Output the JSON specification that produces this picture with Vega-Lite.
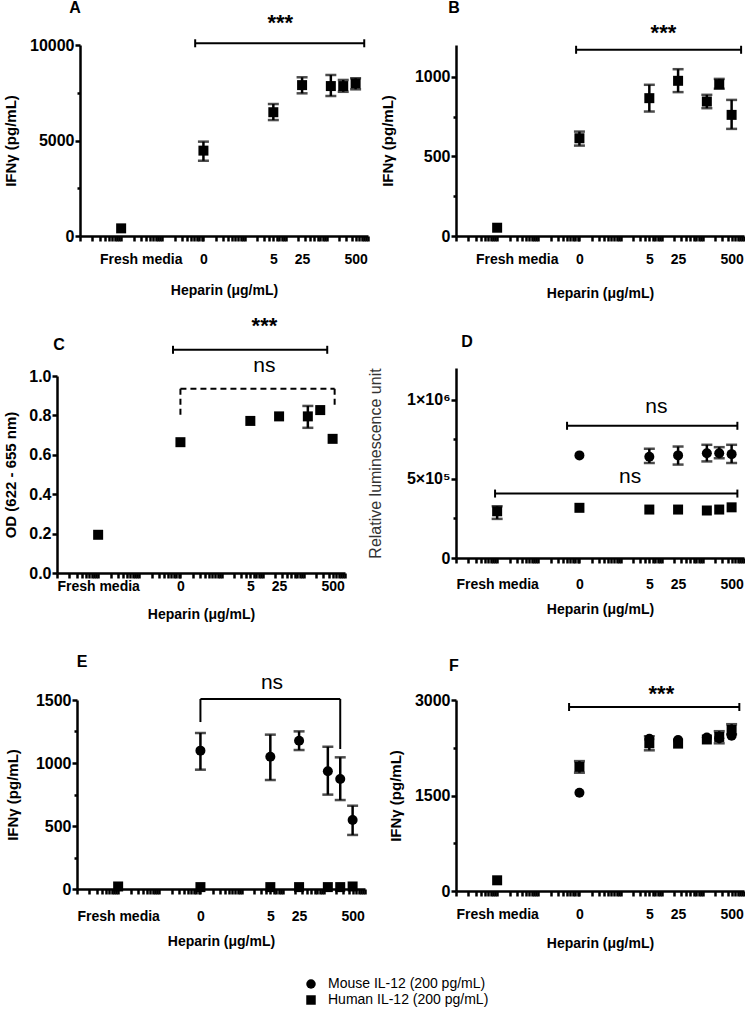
{
"$schema":"https://vega.github.io/schema/vega-lite/v6.json",
"padding":{"left":3,"top":0,"right":0,"bottom":3},
"background":"white",
"datasets":{
"pts":[
{"panel":"A","strain":"Human IL-12 (200 pg/mL)","cond":"Fresh media","x":0.001,"y":400},
{"panel":"A","strain":"Human IL-12 (200 pg/mL)","cond":"0","x":0.1,"y":4470,"lo":3940,"hi":4940},
{"panel":"A","strain":"Human IL-12 (200 pg/mL)","cond":"5","x":5,"y":6480,"lo":6070,"hi":6910},
{"panel":"A","strain":"Human IL-12 (200 pg/mL)","cond":"25","x":25,"y":7900,"lo":7470,"hi":8310},
{"panel":"A","strain":"Human IL-12 (200 pg/mL)","cond":"125","x":125,"y":7850,"lo":7330,"hi":8430},
{"panel":"A","strain":"Human IL-12 (200 pg/mL)","cond":"250","x":250,"y":7850,"lo":7550,"hi":8170},
{"panel":"A","strain":"Human IL-12 (200 pg/mL)","cond":"500","x":500,"y":7990,"lo":7680,"hi":8260},
{"panel":"B","strain":"Human IL-12 (200 pg/mL)","cond":"Fresh media","x":0.001,"y":52},
{"panel":"B","strain":"Human IL-12 (200 pg/mL)","cond":"0","x":0.1,"y":614,"lo":568,"hi":656},
{"panel":"B","strain":"Human IL-12 (200 pg/mL)","cond":"5","x":5,"y":866,"lo":782,"hi":950},
{"panel":"B","strain":"Human IL-12 (200 pg/mL)","cond":"25","x":25,"y":975,"lo":904,"hi":1048},
{"panel":"B","strain":"Human IL-12 (200 pg/mL)","cond":"125","x":125,"y":845,"lo":803,"hi":887},
{"panel":"B","strain":"Human IL-12 (200 pg/mL)","cond":"250","x":250,"y":954,"lo":925,"hi":987},
{"panel":"B","strain":"Human IL-12 (200 pg/mL)","cond":"500","x":500,"y":761,"lo":673,"hi":855},
{"panel":"C","strain":"Human IL-12 (200 pg/mL)","cond":"Fresh media","x":0.001,"y":0.194},
{"panel":"C","strain":"Human IL-12 (200 pg/mL)","cond":"0","x":0.1,"y":0.664},
{"panel":"C","strain":"Human IL-12 (200 pg/mL)","cond":"5","x":5,"y":0.772},
{"panel":"C","strain":"Human IL-12 (200 pg/mL)","cond":"25","x":25,"y":0.795},
{"panel":"C","strain":"Human IL-12 (200 pg/mL)","cond":"125","x":125,"y":0.795,"lo":0.737,"hi":0.848},
{"panel":"C","strain":"Human IL-12 (200 pg/mL)","cond":"250","x":250,"y":0.827},
{"panel":"C","strain":"Human IL-12 (200 pg/mL)","cond":"500","x":500,"y":0.681},
{"panel":"D","strain":"Mouse IL-12 (200 pg/mL)","cond":"0","x":0.1,"y":648000},
{"panel":"D","strain":"Mouse IL-12 (200 pg/mL)","cond":"5","x":5,"y":640000,"lo":600000,"hi":690000},
{"panel":"D","strain":"Mouse IL-12 (200 pg/mL)","cond":"25","x":25,"y":648000,"lo":590000,"hi":704000},
{"panel":"D","strain":"Mouse IL-12 (200 pg/mL)","cond":"125","x":125,"y":662000,"lo":610000,"hi":715000},
{"panel":"D","strain":"Mouse IL-12 (200 pg/mL)","cond":"250","x":250,"y":662000,"lo":630000,"hi":700000},
{"panel":"D","strain":"Mouse IL-12 (200 pg/mL)","cond":"500","x":500,"y":656000,"lo":600000,"hi":715000},
{"panel":"D","strain":"Human IL-12 (200 pg/mL)","cond":"Fresh media","x":0.001,"y":295000,"lo":247000,"hi":327000},
{"panel":"D","strain":"Human IL-12 (200 pg/mL)","cond":"0","x":0.1,"y":317000},
{"panel":"D","strain":"Human IL-12 (200 pg/mL)","cond":"5","x":5,"y":306000},
{"panel":"D","strain":"Human IL-12 (200 pg/mL)","cond":"25","x":25,"y":306000},
{"panel":"D","strain":"Human IL-12 (200 pg/mL)","cond":"125","x":125,"y":300000},
{"panel":"D","strain":"Human IL-12 (200 pg/mL)","cond":"250","x":250,"y":306000},
{"panel":"D","strain":"Human IL-12 (200 pg/mL)","cond":"500","x":500,"y":320000},
{"panel":"E","strain":"Mouse IL-12 (200 pg/mL)","cond":"0","x":0.1,"y":1098,"lo":947,"hi":1238},
{"panel":"E","strain":"Mouse IL-12 (200 pg/mL)","cond":"5","x":5,"y":1050,"lo":865,"hi":1225},
{"panel":"E","strain":"Mouse IL-12 (200 pg/mL)","cond":"25","x":25,"y":1177,"lo":1103,"hi":1251},
{"panel":"E","strain":"Mouse IL-12 (200 pg/mL)","cond":"125","x":125,"y":934,"lo":749,"hi":1129},
{"panel":"E","strain":"Mouse IL-12 (200 pg/mL)","cond":"250","x":250,"y":873,"lo":706,"hi":1045},
{"panel":"E","strain":"Mouse IL-12 (200 pg/mL)","cond":"500","x":500,"y":548,"lo":429,"hi":661},
{"panel":"E","strain":"Human IL-12 (200 pg/mL)","cond":"Fresh media","x":0.001,"y":20},
{"panel":"E","strain":"Human IL-12 (200 pg/mL)","cond":"0","x":0.1,"y":15},
{"panel":"E","strain":"Human IL-12 (200 pg/mL)","cond":"5","x":5,"y":15},
{"panel":"E","strain":"Human IL-12 (200 pg/mL)","cond":"25","x":25,"y":15},
{"panel":"E","strain":"Human IL-12 (200 pg/mL)","cond":"125","x":125,"y":15},
{"panel":"E","strain":"Human IL-12 (200 pg/mL)","cond":"250","x":250,"y":15},
{"panel":"E","strain":"Human IL-12 (200 pg/mL)","cond":"500","x":500,"y":20},
{"panel":"F","strain":"Mouse IL-12 (200 pg/mL)","cond":"0","x":0.1,"y":1544},
{"panel":"F","strain":"Mouse IL-12 (200 pg/mL)","cond":"5","x":5,"y":2390},
{"panel":"F","strain":"Mouse IL-12 (200 pg/mL)","cond":"25","x":25,"y":2370},
{"panel":"F","strain":"Mouse IL-12 (200 pg/mL)","cond":"125","x":125,"y":2410},
{"panel":"F","strain":"Mouse IL-12 (200 pg/mL)","cond":"250","x":250,"y":2400},
{"panel":"F","strain":"Mouse IL-12 (200 pg/mL)","cond":"500","x":500,"y":2440},
{"panel":"F","strain":"Human IL-12 (200 pg/mL)","cond":"Fresh media","x":0.001,"y":168},
{"panel":"F","strain":"Human IL-12 (200 pg/mL)","cond":"0","x":0.1,"y":1950,"lo":1858,"hi":2040},
{"panel":"F","strain":"Human IL-12 (200 pg/mL)","cond":"5","x":5,"y":2320,"lo":2210,"hi":2430},
{"panel":"F","strain":"Human IL-12 (200 pg/mL)","cond":"25","x":25,"y":2315},
{"panel":"F","strain":"Human IL-12 (200 pg/mL)","cond":"125","x":125,"y":2380},
{"panel":"F","strain":"Human IL-12 (200 pg/mL)","cond":"250","x":250,"y":2420,"lo":2320,"hi":2510},
{"panel":"F","strain":"Human IL-12 (200 pg/mL)","cond":"500","x":500,"y":2530,"lo":2460,"hi":2620}
],
"brk":[
{"panel":"A","from":0.063,"to":810,"y":10090},
{"panel":"B","from":0.083,"to":850,"y":1170},
{"panel":"C","from":0.066,"to":370,"y":1.133},
{"panel":"C","from":0.1,"to":560,"y":0.935,"leg1":0.79,"leg2":0.848},
{"panel":"D","from":0.05,"to":690,"y":835000},
{"panel":"D","from":0.00089,"to":690,"y":407000},
{"panel":"E","from":0.1,"to":250,"y":1508,"leg1":1325,"leg2":1111},
{"panel":"F","from":0.056,"to":770,"y":2890}
],
"txt":[
{"panel":"A","x":7.4,"y":11414,"label":"***"},
{"panel":"B","x":11,"y":1308,"label":"***"},
{"panel":"C","x":11,"y":1.277,"label":"***"},
{"panel":"C","x":11,"y":1.046,"label":"ns"},
{"panel":"D","x":7.4,"y":945000,"label":"ns"},
{"panel":"D","x":1.7,"y":505000,"label":"ns"},
{"panel":"E","x":5.5,"y":1627,"label":"ns"},
{"panel":"F","x":9.8,"y":3170,"label":"***"}
],
"tags":[
{"panel":"A","x":0.000076,"y":11937,"tag":"A"},
{"panel":"B","x":0.000089,"y":1432,"tag":"B"},
{"panel":"C","x":0.000112,"y":1.157,"tag":"C"},
{"panel":"D","x":0.000185,"y":1365000,"tag":"D"},
{"panel":"E","x":0.000132,"y":1802,"tag":"E"},
{"panel":"F","x":0.000089,"y":3534,"tag":"F"}
]
},
"columns":2,
"spacing":{"row":132,"column":88},
"bounds":"flush",
"concat":[
{
"width":311,"height":191,
"layer":[
{"data":{"name":"pts"},"transform":[{"filter":"datum.panel === 'A' && isValid(datum.lo)"}],
"mark":{"type":"errorbar","color":"black","thickness":2.5,"ticks":{"size":11,"thickness":2.5}},
"encoding":{"x":{"field":"x","type":"quantitative","title":"Heparin (μg/mL)","scale":{"type":"log","domain":[0.0001,1000],"nice":false,"range":[23,311]}},"y":{"field":"lo","type":"quantitative","title":"IFNγ (pg/mL)","scale":{"domain":[0,10000],"nice":false,"zero":false}},"y2":{"field":"hi"}}},
{"data":{"name":"pts"},"transform":[{"filter":"datum.panel === 'A'"}],
"mark":{"type":"point","filled":true,"opacity":1,"color":"black","size":100},
"encoding":{
"x":{"field":"x","type":"quantitative","scale":{"type":"log","domain":[0.0001,1000],"nice":false,"range":[23,311]},
"axis":{"title":"Heparin (μg/mL)","tickCount":100,"values":[0.0001,0.0002,0.0003,0.0004,0.0005,0.0006,0.0007,0.0008,0.0009,0.001,0.002,0.003,0.004,0.005,0.006,0.007,0.008,0.009,0.01,0.02,0.03,0.04,0.05,0.06,0.07,0.08,0.09,0.1,0.2,0.3,0.4,0.5,0.6,0.7,0.8,0.9,1,2,3,4,5,6,7,8,9,10,20,25,30,40,50,60,70,80,90,100,200,300,400,500,600,700,800,900,1000],
"labelExpr":"datum.value === 0.003 ? 'Fresh media' : datum.value === 0.1 ? '0' : datum.value === 5 ? '5' : datum.value === 25 ? '25' : datum.value === 500 ? '500' : ''","labelPadding":11,"titlePadding":17,"tickOpacity":{"condition":{"test":"datum.value === 25","value":0},"value":1}}},
"y":{"field":"y","type":"quantitative","scale":{"domain":[0,10000],"nice":false,"zero":false},
"axis":{"title":"IFNγ (pg/mL)","tickCount":100,"values":[0,2500,5000,7500,10000],"format":"d","labelOverlap":false,"labelExpr":"datum.value % 5000 === 0 ? datum.label : ''","offset":-23,"titlePadding":11,"tickSize":{"condition":{"test":"datum.value % 5000 === 0","value":5},"value":3}}},
"shape":{"field":"strain","type":"nominal","scale":{"domain":["Mouse IL-12 (200 pg/mL)","Human IL-12 (200 pg/mL)"],"range":["circle","square"]},"legend":{"title":null}}}},
{"data":{"name":"brk"},"transform":[{"filter":"datum.panel === 'A'"}],
"mark":{"type":"rule","color":"black","strokeWidth":2},
"encoding":{"x":{"field":"from","type":"quantitative","scale":{"type":"log","domain":[0.0001,1000],"nice":false,"range":[23,311]}},"x2":{"field":"to"},"y":{"field":"y","type":"quantitative","scale":{"domain":[0,10000],"nice":false,"zero":false}}}},
{"data":{"name":"brk"},"transform":[{"filter":"datum.panel === 'A'"}],
"mark":{"type":"point","shape":"M0,-1L0,1","size":64,"filled":false,"color":"black","strokeWidth":2,"opacity":1},
"encoding":{"x":{"field":"from","type":"quantitative","scale":{"type":"log","domain":[0.0001,1000],"nice":false,"range":[23,311]}},"y":{"field":"y","type":"quantitative","scale":{"domain":[0,10000],"nice":false,"zero":false}}}},
{"data":{"name":"brk"},"transform":[{"filter":"datum.panel === 'A'"}],
"mark":{"type":"point","shape":"M0,-1L0,1","size":64,"filled":false,"color":"black","strokeWidth":2,"opacity":1},
"encoding":{"x":{"field":"to","type":"quantitative","scale":{"type":"log","domain":[0.0001,1000],"nice":false,"range":[23,311]}},"y":{"field":"y","type":"quantitative","scale":{"domain":[0,10000],"nice":false,"zero":false}}}},
{"data":{"name":"txt"},"transform":[{"filter":"datum.panel === 'A'"}],
"mark":{"type":"text","fontSize":22,"fontWeight":"bold","baseline":"alphabetic","dy":12,"color":"black"},
"encoding":{"x":{"field":"x","type":"quantitative","scale":{"type":"log","domain":[0.0001,1000],"nice":false,"range":[23,311]}},"y":{"field":"y","type":"quantitative","scale":{"domain":[0,10000],"nice":false,"zero":false}},"text":{"field":"label"}}},
{"data":{"name":"tags"},"transform":[{"filter":"datum.panel === 'A'"}],
"mark":{"type":"text","fontSize":16,"fontWeight":"bold","baseline":"middle","align":"center","color":"black"},
"encoding":{"x":{"field":"x","type":"quantitative","scale":{"type":"log","domain":[0.0001,1000],"nice":false,"range":[23,311]}},"y":{"field":"y","type":"quantitative","scale":{"domain":[0,10000],"nice":false,"zero":false}},"text":{"field":"tag"}}}
]
},
{
"width":288,"height":191,
"layer":[
{"data":{"name":"pts"},"transform":[{"filter":"datum.panel === 'B' && isValid(datum.lo)"}],
"mark":{"type":"errorbar","color":"black","thickness":2.5,"ticks":{"size":11,"thickness":2.5}},
"encoding":{"x":{"field":"x","type":"quantitative","title":"Heparin (μg/mL)","scale":{"type":"log","domain":[0.0001,1000],"nice":false}},"y":{"field":"lo","type":"quantitative","title":"IFNγ (pg/mL)","scale":{"domain":[0,1200],"nice":false,"zero":false}},"y2":{"field":"hi"}}},
{"data":{"name":"pts"},"transform":[{"filter":"datum.panel === 'B'"}],
"mark":{"type":"point","filled":true,"opacity":1,"color":"black","size":100},
"encoding":{
"x":{"field":"x","type":"quantitative","scale":{"type":"log","domain":[0.0001,1000],"nice":false},
"axis":{"title":"Heparin (μg/mL)","tickCount":100,"values":[0.0001,0.0002,0.0003,0.0004,0.0005,0.0006,0.0007,0.0008,0.0009,0.001,0.002,0.003,0.004,0.005,0.006,0.007,0.008,0.009,0.01,0.02,0.03,0.04,0.05,0.06,0.07,0.08,0.09,0.1,0.2,0.3,0.4,0.5,0.6,0.7,0.8,0.9,1,2,3,4,5,6,7,8,9,10,20,25,30,40,50,60,70,80,90,100,200,300,400,500,600,700,800,900,1000],
"labelExpr":"datum.value === 0.003 ? 'Fresh media' : datum.value === 0.1 ? '0' : datum.value === 5 ? '5' : datum.value === 25 ? '25' : datum.value === 500 ? '500' : ''","labelPadding":11,"titlePadding":20,"tickOpacity":{"condition":{"test":"datum.value === 25","value":0},"value":1}}},
"y":{"field":"y","type":"quantitative","scale":{"domain":[0,1200],"nice":false,"zero":false},
"axis":{"title":"IFNγ (pg/mL)","tickCount":100,"values":[0,250,500,750,1000],"format":"d","labelOverlap":false,"labelExpr":"datum.value % 500 === 0 ? datum.label : ''","titlePadding":19,"tickSize":{"condition":{"test":"datum.value % 500 === 0","value":5},"value":3}}},
"shape":{"field":"strain","type":"nominal","scale":{"domain":["Mouse IL-12 (200 pg/mL)","Human IL-12 (200 pg/mL)"],"range":["circle","square"]},"legend":{"title":null}}}},
{"data":{"name":"brk"},"transform":[{"filter":"datum.panel === 'B'"}],
"mark":{"type":"rule","color":"black","strokeWidth":2},
"encoding":{"x":{"field":"from","type":"quantitative","scale":{"type":"log","domain":[0.0001,1000],"nice":false}},"x2":{"field":"to"},"y":{"field":"y","type":"quantitative","scale":{"domain":[0,1200],"nice":false,"zero":false}}}},
{"data":{"name":"brk"},"transform":[{"filter":"datum.panel === 'B'"}],
"mark":{"type":"point","shape":"M0,-1L0,1","size":64,"filled":false,"color":"black","strokeWidth":2,"opacity":1},
"encoding":{"x":{"field":"from","type":"quantitative","scale":{"type":"log","domain":[0.0001,1000],"nice":false}},"y":{"field":"y","type":"quantitative","scale":{"domain":[0,1200],"nice":false,"zero":false}}}},
{"data":{"name":"brk"},"transform":[{"filter":"datum.panel === 'B'"}],
"mark":{"type":"point","shape":"M0,-1L0,1","size":64,"filled":false,"color":"black","strokeWidth":2,"opacity":1},
"encoding":{"x":{"field":"to","type":"quantitative","scale":{"type":"log","domain":[0.0001,1000],"nice":false}},"y":{"field":"y","type":"quantitative","scale":{"domain":[0,1200],"nice":false,"zero":false}}}},
{"data":{"name":"txt"},"transform":[{"filter":"datum.panel === 'B'"}],
"mark":{"type":"text","fontSize":22,"fontWeight":"bold","baseline":"alphabetic","dy":12,"color":"black"},
"encoding":{"x":{"field":"x","type":"quantitative","scale":{"type":"log","domain":[0.0001,1000],"nice":false}},"y":{"field":"y","type":"quantitative","scale":{"domain":[0,1200],"nice":false,"zero":false}},"text":{"field":"label"}}},
{"data":{"name":"tags"},"transform":[{"filter":"datum.panel === 'B'"}],
"mark":{"type":"text","fontSize":16,"fontWeight":"bold","baseline":"middle","align":"center","color":"black"},
"encoding":{"x":{"field":"x","type":"quantitative","scale":{"type":"log","domain":[0.0001,1000],"nice":false}},"y":{"field":"y","type":"quantitative","scale":{"domain":[0,1200],"nice":false,"zero":false}},"text":{"field":"tag"}}}
]
},
{
"width":311,"height":200,
"layer":[
{"data":{"name":"pts"},"transform":[{"filter":"datum.panel === 'C' && isValid(datum.lo)"}],
"mark":{"type":"errorbar","color":"black","thickness":2.5,"ticks":{"size":11,"thickness":2.5}},
"encoding":{"x":{"field":"x","type":"quantitative","title":"Heparin (μg/mL)","scale":{"type":"log","domain":[0.0001,1000],"nice":false,"range":[0,288]}},"y":{"field":"lo","type":"quantitative","title":"OD (622 - 655 nm)","scale":{"domain":[0,1],"nice":false,"zero":false,"range":[205,8]},
"axis":{"title":"OD (622 - 655 nm)","tickCount":100,"values":[0,0.2,0.4,0.6,0.8,1],"labelExpr":"format(datum.value, '.1f')","labelOverlap":false,"labelSeparation":0,"titlePadding":10}},"y2":{"field":"hi"}}},
{"data":{"name":"pts"},"transform":[{"filter":"datum.panel === 'C'"}],
"mark":{"type":"point","filled":true,"opacity":1,"color":"black","size":100},
"encoding":{
"x":{"field":"x","type":"quantitative","scale":{"type":"log","domain":[0.0001,1000],"nice":false,"range":[0,288]},
"axis":{"title":"Heparin (μg/mL)","tickCount":100,"values":[0.0001,0.0002,0.0003,0.0004,0.0005,0.0006,0.0007,0.0008,0.0009,0.001,0.002,0.003,0.004,0.005,0.006,0.007,0.008,0.009,0.01,0.02,0.03,0.04,0.05,0.06,0.07,0.08,0.09,0.1,0.2,0.3,0.4,0.5,0.6,0.7,0.8,0.9,1,2,3,4,5,6,7,8,9,10,20,25,30,40,50,60,70,80,90,100,200,300,400,500,600,700,800,900,1000],
"labelExpr":"datum.value === 0.001 ? 'Fresh media' : datum.value === 0.1 ? '0' : datum.value === 5 ? '5' : datum.value === 25 ? '25' : datum.value === 500 ? '500' : ''","offset":5,"labelPadding":1,"titlePadding":14,"tickOpacity":{"condition":{"test":"datum.value === 25","value":0},"value":1}}},
"y":{"field":"y","type":"quantitative","scale":{"domain":[0,1],"nice":false,"zero":false,"range":[205,8]},
"axis":{"title":"OD (622 - 655 nm)","tickCount":100,"values":[0,0.2,0.4,0.6,0.8,1],"labelExpr":"format(datum.value, '.1f')","labelOverlap":false,"labelSeparation":0,"titlePadding":10}},
"shape":{"field":"strain","type":"nominal","scale":{"domain":["Mouse IL-12 (200 pg/mL)","Human IL-12 (200 pg/mL)"],"range":["circle","square"]},"legend":{"title":null}}}},
{"data":{"name":"brk"},"transform":[{"filter":"datum.panel === 'C' && !isValid(datum.leg1)"}],
"mark":{"type":"rule","color":"black","strokeWidth":2},
"encoding":{"x":{"field":"from","type":"quantitative","scale":{"type":"log","domain":[0.0001,1000],"nice":false,"range":[0,288]}},"x2":{"field":"to"},"y":{"field":"y","type":"quantitative","scale":{"domain":[0,1],"nice":false,"zero":false,"range":[205,8]}}}},
{"data":{"name":"brk"},"transform":[{"filter":"datum.panel === 'C' && !isValid(datum.leg1)"}],
"mark":{"type":"point","shape":"M0,-1L0,1","size":64,"filled":false,"color":"black","strokeWidth":2,"opacity":1},
"encoding":{"x":{"field":"from","type":"quantitative","scale":{"type":"log","domain":[0.0001,1000],"nice":false,"range":[0,288]}},"y":{"field":"y","type":"quantitative","scale":{"domain":[0,1],"nice":false,"zero":false,"range":[205,8]}}}},
{"data":{"name":"brk"},"transform":[{"filter":"datum.panel === 'C' && !isValid(datum.leg1)"}],
"mark":{"type":"point","shape":"M0,-1L0,1","size":64,"filled":false,"color":"black","strokeWidth":2,"opacity":1},
"encoding":{"x":{"field":"to","type":"quantitative","scale":{"type":"log","domain":[0.0001,1000],"nice":false,"range":[0,288]}},"y":{"field":"y","type":"quantitative","scale":{"domain":[0,1],"nice":false,"zero":false,"range":[205,8]}}}},
{"data":{"name":"brk"},"transform":[{"filter":"datum.panel === 'C' && isValid(datum.leg1)"}],
"mark":{"type":"rule","color":"black","strokeWidth":2,"strokeDash":[6,4]},
"encoding":{"x":{"field":"from","type":"quantitative","scale":{"type":"log","domain":[0.0001,1000],"nice":false,"range":[0,288]}},"x2":{"field":"to"},"y":{"field":"y","type":"quantitative","scale":{"domain":[0,1],"nice":false,"zero":false,"range":[205,8]}}}},
{"data":{"name":"brk"},"transform":[{"filter":"datum.panel === 'C' && isValid(datum.leg1)"}],
"mark":{"type":"rule","color":"black","strokeWidth":2,"strokeDash":[6,4]},
"encoding":{"x":{"field":"from","type":"quantitative","scale":{"type":"log","domain":[0.0001,1000],"nice":false,"range":[0,288]}},"y":{"field":"y","type":"quantitative","scale":{"domain":[0,1],"nice":false,"zero":false,"range":[205,8]}},"y2":{"field":"leg1"}}},
{"data":{"name":"brk"},"transform":[{"filter":"datum.panel === 'C' && isValid(datum.leg1)"}],
"mark":{"type":"rule","color":"black","strokeWidth":2,"strokeDash":[6,4]},
"encoding":{"x":{"field":"to","type":"quantitative","scale":{"type":"log","domain":[0.0001,1000],"nice":false,"range":[0,288]}},"y":{"field":"y","type":"quantitative","scale":{"domain":[0,1],"nice":false,"zero":false,"range":[205,8]}},"y2":{"field":"leg2"}}},
{"data":{"name":"txt"},"transform":[{"filter":"datum.panel === 'C' && datum.label === '***'"}],
"mark":{"type":"text","fontSize":22,"fontWeight":"bold","baseline":"alphabetic","dy":12,"color":"black"},
"encoding":{"x":{"field":"x","type":"quantitative","scale":{"type":"log","domain":[0.0001,1000],"nice":false,"range":[0,288]}},"y":{"field":"y","type":"quantitative","scale":{"domain":[0,1],"nice":false,"zero":false,"range":[205,8]}},"text":{"field":"label"}}},
{"data":{"name":"txt"},"transform":[{"filter":"datum.panel === 'C' && datum.label === 'ns'"}],
"mark":{"type":"text","fontSize":21,"fontWeight":"normal","baseline":"alphabetic","dy":5,"color":"black"},
"encoding":{"x":{"field":"x","type":"quantitative","scale":{"type":"log","domain":[0.0001,1000],"nice":false,"range":[0,288]}},"y":{"field":"y","type":"quantitative","scale":{"domain":[0,1],"nice":false,"zero":false,"range":[205,8]}},"text":{"field":"label"}}},
{"data":{"name":"tags"},"transform":[{"filter":"datum.panel === 'C'"}],
"mark":{"type":"text","fontSize":16,"fontWeight":"bold","baseline":"middle","align":"center","color":"black"},
"encoding":{"x":{"field":"x","type":"quantitative","scale":{"type":"log","domain":[0.0001,1000],"nice":false,"range":[0,288]}},"y":{"field":"y","type":"quantitative","scale":{"domain":[0,1],"nice":false,"zero":false,"range":[205,8]}},"text":{"field":"tag"}}}
]
},
{
"width":288,"height":190,
"layer":[
{"data":{"name":"pts"},"transform":[{"filter":"datum.panel === 'D' && isValid(datum.lo)"}],
"mark":{"type":"errorbar","color":"black","thickness":2.5,"ticks":{"size":11,"thickness":2.5}},
"encoding":{"x":{"field":"x","type":"quantitative","title":"Heparin (μg/mL)","scale":{"type":"log","domain":[0.0001,1000],"nice":false}},"y":{"field":"lo","type":"quantitative","title":"Relative luminescence unit","scale":{"domain":[0,1200000],"nice":false,"zero":false}},"y2":{"field":"hi"}}},
{"data":{"name":"pts"},"transform":[{"filter":"datum.panel === 'D'"}],
"mark":{"type":"point","filled":true,"opacity":1,"color":"black","size":100},
"encoding":{
"x":{"field":"x","type":"quantitative","scale":{"type":"log","domain":[0.0001,1000],"nice":false},
"axis":{"title":"Heparin (μg/mL)","tickCount":100,"values":[0.0001,0.0002,0.0003,0.0004,0.0005,0.0006,0.0007,0.0008,0.0009,0.001,0.002,0.003,0.004,0.005,0.006,0.007,0.008,0.009,0.01,0.02,0.03,0.04,0.05,0.06,0.07,0.08,0.09,0.1,0.2,0.3,0.4,0.5,0.6,0.7,0.8,0.9,1,2,3,4,5,6,7,8,9,10,20,25,30,40,50,60,70,80,90,100,200,300,400,500,600,700,800,900,1000],
"labelExpr":"datum.value === 0.001 ? 'Fresh media' : datum.value === 0.1 ? '0' : datum.value === 5 ? '5' : datum.value === 25 ? '25' : datum.value === 500 ? '500' : ''","labelPadding":14,"titlePadding":11,"tickOpacity":{"condition":{"test":"datum.value === 25","value":0},"value":1}}},
"y":{"field":"y","type":"quantitative","scale":{"domain":[0,1200000],"nice":false,"zero":false},
"axis":{"title":"Relative luminescence unit","tickCount":100,"values":[0,250000,500000,750000,1000000],"labelOverlap":false,"labelExpr":"datum.value === 1000000 ? '1×10⁶' : datum.value === 500000 ? '5×10⁵' : datum.value === 0 ? '0' : ''","titlePadding":23,"titleFontWeight":"normal","titleFontSize":16,"titleColor":"#333333","tickSize":{"condition":{"test":"datum.value % 500000 === 0","value":5},"value":3}}},
"shape":{"field":"strain","type":"nominal","scale":{"domain":["Mouse IL-12 (200 pg/mL)","Human IL-12 (200 pg/mL)"],"range":["circle","square"]},"legend":{"title":null}}}},
{"data":{"name":"brk"},"transform":[{"filter":"datum.panel === 'D'"}],
"mark":{"type":"rule","color":"black","strokeWidth":2},
"encoding":{"x":{"field":"from","type":"quantitative","scale":{"type":"log","domain":[0.0001,1000],"nice":false}},"x2":{"field":"to"},"y":{"field":"y","type":"quantitative","scale":{"domain":[0,1200000],"nice":false,"zero":false}}}},
{"data":{"name":"brk"},"transform":[{"filter":"datum.panel === 'D'"}],
"mark":{"type":"point","shape":"M0,-1L0,1","size":64,"filled":false,"color":"black","strokeWidth":2,"opacity":1},
"encoding":{"x":{"field":"from","type":"quantitative","scale":{"type":"log","domain":[0.0001,1000],"nice":false}},"y":{"field":"y","type":"quantitative","scale":{"domain":[0,1200000],"nice":false,"zero":false}}}},
{"data":{"name":"brk"},"transform":[{"filter":"datum.panel === 'D'"}],
"mark":{"type":"point","shape":"M0,-1L0,1","size":64,"filled":false,"color":"black","strokeWidth":2,"opacity":1},
"encoding":{"x":{"field":"to","type":"quantitative","scale":{"type":"log","domain":[0.0001,1000],"nice":false}},"y":{"field":"y","type":"quantitative","scale":{"domain":[0,1200000],"nice":false,"zero":false}}}},
{"data":{"name":"txt"},"transform":[{"filter":"datum.panel === 'D'"}],
"mark":{"type":"text","fontSize":21,"fontWeight":"normal","baseline":"alphabetic","dy":5,"color":"black"},
"encoding":{"x":{"field":"x","type":"quantitative","scale":{"type":"log","domain":[0.0001,1000],"nice":false}},"y":{"field":"y","type":"quantitative","scale":{"domain":[0,1200000],"nice":false,"zero":false}},"text":{"field":"label"}}},
{"data":{"name":"tags"},"transform":[{"filter":"datum.panel === 'D'"}],
"mark":{"type":"text","fontSize":16,"fontWeight":"bold","baseline":"middle","align":"center","color":"black"},
"encoding":{"x":{"field":"x","type":"quantitative","scale":{"type":"log","domain":[0.0001,1000],"nice":false}},"y":{"field":"y","type":"quantitative","scale":{"domain":[0,1200000],"nice":false,"zero":false}},"text":{"field":"tag"}}}
]
},
{
"width":311,"height":189,
"layer":[
{"data":{"name":"pts"},"transform":[{"filter":"datum.panel === 'E' && isValid(datum.lo)"}],
"mark":{"type":"errorbar","color":"black","thickness":2.5,"ticks":{"size":11,"thickness":2.5}},
"encoding":{"x":{"field":"x","type":"quantitative","title":"Heparin (μg/mL)","scale":{"type":"log","domain":[0.0001,1000],"nice":false,"range":[20,308]}},"y":{"field":"lo","type":"quantitative","title":"IFNγ (pg/mL)","scale":{"domain":[0,1500],"nice":false,"zero":false}},"y2":{"field":"hi"}}},
{"data":{"name":"pts"},"transform":[{"filter":"datum.panel === 'E'"}],
"mark":{"type":"point","filled":true,"opacity":1,"color":"black","size":100},
"encoding":{
"x":{"field":"x","type":"quantitative","scale":{"type":"log","domain":[0.0001,1000],"nice":false,"range":[20,308]},
"axis":{"title":"Heparin (μg/mL)","tickCount":100,"values":[0.0001,0.0002,0.0003,0.0004,0.0005,0.0006,0.0007,0.0008,0.0009,0.001,0.002,0.003,0.004,0.005,0.006,0.007,0.008,0.009,0.01,0.02,0.03,0.04,0.05,0.06,0.07,0.08,0.09,0.1,0.2,0.3,0.4,0.5,0.6,0.7,0.8,0.9,1,2,3,4,5,6,7,8,9,10,20,25,30,40,50,60,70,80,90,100,200,300,400,500,600,700,800,900,1000],
"labelExpr":"datum.value === 0.001 ? 'Fresh media' : datum.value === 0.1 ? '0' : datum.value === 5 ? '5' : datum.value === 25 ? '25' : datum.value === 500 ? '500' : ''","labelPadding":15,"titlePadding":11,"tickOpacity":{"condition":{"test":"datum.value === 25","value":0},"value":1}}},
"y":{"field":"y","type":"quantitative","scale":{"domain":[0,1500],"nice":false,"zero":false},
"axis":{"title":"IFNγ (pg/mL)","tickCount":100,"values":[0,250,500,750,1000,1250,1500],"format":"d","labelOverlap":false,"labelExpr":"datum.value % 500 === 0 ? datum.label : ''","offset":-20,"titlePadding":15,"tickSize":{"condition":{"test":"datum.value % 500 === 0","value":5},"value":3}}},
"shape":{"field":"strain","type":"nominal","scale":{"domain":["Mouse IL-12 (200 pg/mL)","Human IL-12 (200 pg/mL)"],"range":["circle","square"]},"legend":{"title":null}}}},
{"data":{"name":"brk"},"transform":[{"filter":"datum.panel === 'E'"}],
"mark":{"type":"rule","color":"black","strokeWidth":2},
"encoding":{"x":{"field":"from","type":"quantitative","scale":{"type":"log","domain":[0.0001,1000],"nice":false,"range":[20,308]}},"x2":{"field":"to"},"y":{"field":"y","type":"quantitative","scale":{"domain":[0,1500],"nice":false,"zero":false}}}},
{"data":{"name":"brk"},"transform":[{"filter":"datum.panel === 'E'"}],
"mark":{"type":"rule","color":"black","strokeWidth":2},
"encoding":{"x":{"field":"from","type":"quantitative","scale":{"type":"log","domain":[0.0001,1000],"nice":false,"range":[20,308]}},"y":{"field":"y","type":"quantitative","scale":{"domain":[0,1500],"nice":false,"zero":false}},"y2":{"field":"leg1"}}},
{"data":{"name":"brk"},"transform":[{"filter":"datum.panel === 'E'"}],
"mark":{"type":"rule","color":"black","strokeWidth":2},
"encoding":{"x":{"field":"to","type":"quantitative","scale":{"type":"log","domain":[0.0001,1000],"nice":false,"range":[20,308]}},"y":{"field":"y","type":"quantitative","scale":{"domain":[0,1500],"nice":false,"zero":false}},"y2":{"field":"leg2"}}},
{"data":{"name":"txt"},"transform":[{"filter":"datum.panel === 'E'"}],
"mark":{"type":"text","fontSize":21,"fontWeight":"normal","baseline":"alphabetic","dy":5,"color":"black"},
"encoding":{"x":{"field":"x","type":"quantitative","scale":{"type":"log","domain":[0.0001,1000],"nice":false,"range":[20,308]}},"y":{"field":"y","type":"quantitative","scale":{"domain":[0,1500],"nice":false,"zero":false}},"text":{"field":"label"}}},
{"data":{"name":"tags"},"transform":[{"filter":"datum.panel === 'E'"}],
"mark":{"type":"text","fontSize":16,"fontWeight":"bold","baseline":"middle","align":"center","color":"black"},
"encoding":{"x":{"field":"x","type":"quantitative","scale":{"type":"log","domain":[0.0001,1000],"nice":false,"range":[20,308]}},"y":{"field":"y","type":"quantitative","scale":{"domain":[0,1500],"nice":false,"zero":false}},"text":{"field":"tag"}}}
]
},
{
"width":288,"height":191,
"layer":[
{"data":{"name":"pts"},"transform":[{"filter":"datum.panel === 'F' && isValid(datum.lo)"}],
"mark":{"type":"errorbar","color":"black","thickness":2.5,"ticks":{"size":11,"thickness":2.5}},
"encoding":{"x":{"field":"x","type":"quantitative","title":"Heparin (μg/mL)","scale":{"type":"log","domain":[0.0001,1000],"nice":false}},"y":{"field":"lo","type":"quantitative","title":"IFNγ (pg/mL)","scale":{"domain":[0,3000],"nice":false,"zero":false}},"y2":{"field":"hi"}}},
{"data":{"name":"pts"},"transform":[{"filter":"datum.panel === 'F'"}],
"mark":{"type":"point","filled":true,"opacity":1,"color":"black","size":100},
"encoding":{
"x":{"field":"x","type":"quantitative","scale":{"type":"log","domain":[0.0001,1000],"nice":false},
"axis":{"title":"Heparin (μg/mL)","tickCount":100,"values":[0.0001,0.0002,0.0003,0.0004,0.0005,0.0006,0.0007,0.0008,0.0009,0.001,0.002,0.003,0.004,0.005,0.006,0.007,0.008,0.009,0.01,0.02,0.03,0.04,0.05,0.06,0.07,0.08,0.09,0.1,0.2,0.3,0.4,0.5,0.6,0.7,0.8,0.9,1,2,3,4,5,6,7,8,9,10,20,25,30,40,50,60,70,80,90,100,200,300,400,500,600,700,800,900,1000],
"labelExpr":"datum.value === 0.001 ? 'Fresh media' : datum.value === 0.1 ? '0' : datum.value === 5 ? '5' : datum.value === 25 ? '25' : datum.value === 500 ? '500' : ''","labelPadding":11,"titlePadding":15,"tickOpacity":{"condition":{"test":"datum.value === 25","value":0},"value":1}}},
"y":{"field":"y","type":"quantitative","scale":{"domain":[0,3000],"nice":false,"zero":false},
"axis":{"title":"IFNγ (pg/mL)","tickCount":100,"values":[0,750,1500,2250,3000],"format":"d","labelOverlap":false,"labelExpr":"datum.value % 1500 === 0 ? datum.label : ''","titlePadding":11,"tickSize":{"condition":{"test":"datum.value % 1500 === 0","value":5},"value":3}}},
"shape":{"field":"strain","type":"nominal","scale":{"domain":["Mouse IL-12 (200 pg/mL)","Human IL-12 (200 pg/mL)"],"range":["circle","square"]},"legend":{"title":null}}}},
{"data":{"name":"brk"},"transform":[{"filter":"datum.panel === 'F'"}],
"mark":{"type":"rule","color":"black","strokeWidth":2},
"encoding":{"x":{"field":"from","type":"quantitative","scale":{"type":"log","domain":[0.0001,1000],"nice":false}},"x2":{"field":"to"},"y":{"field":"y","type":"quantitative","scale":{"domain":[0,3000],"nice":false,"zero":false}}}},
{"data":{"name":"brk"},"transform":[{"filter":"datum.panel === 'F'"}],
"mark":{"type":"point","shape":"M0,-1L0,1","size":64,"filled":false,"color":"black","strokeWidth":2,"opacity":1},
"encoding":{"x":{"field":"from","type":"quantitative","scale":{"type":"log","domain":[0.0001,1000],"nice":false}},"y":{"field":"y","type":"quantitative","scale":{"domain":[0,3000],"nice":false,"zero":false}}}},
{"data":{"name":"brk"},"transform":[{"filter":"datum.panel === 'F'"}],
"mark":{"type":"point","shape":"M0,-1L0,1","size":64,"filled":false,"color":"black","strokeWidth":2,"opacity":1},
"encoding":{"x":{"field":"to","type":"quantitative","scale":{"type":"log","domain":[0.0001,1000],"nice":false}},"y":{"field":"y","type":"quantitative","scale":{"domain":[0,3000],"nice":false,"zero":false}}}},
{"data":{"name":"txt"},"transform":[{"filter":"datum.panel === 'F'"}],
"mark":{"type":"text","fontSize":22,"fontWeight":"bold","baseline":"alphabetic","dy":12,"color":"black"},
"encoding":{"x":{"field":"x","type":"quantitative","scale":{"type":"log","domain":[0.0001,1000],"nice":false}},"y":{"field":"y","type":"quantitative","scale":{"domain":[0,3000],"nice":false,"zero":false}},"text":{"field":"label"}}},
{"data":{"name":"tags"},"transform":[{"filter":"datum.panel === 'F'"}],
"mark":{"type":"text","fontSize":16,"fontWeight":"bold","baseline":"middle","align":"center","color":"black"},
"encoding":{"x":{"field":"x","type":"quantitative","scale":{"type":"log","domain":[0.0001,1000],"nice":false}},"y":{"field":"y","type":"quantitative","scale":{"domain":[0,3000],"nice":false,"zero":false}},"text":{"field":"tag"}}}
]
}
],
"config":{
"font":"Liberation Sans",
"view":{"stroke":null},
"axis":{"domainColor":"black","domainWidth":2.5,"tickColor":"black","tickWidth":2.5,"labelColor":"black","titleColor":"black","labelFont":"Liberation Sans","titleFont":"Liberation Sans","labelFontWeight":"bold","titleFontWeight":"bold","grid":false},
"axisX":{"labelFontSize":14,"titleFontSize":14,"labelOverlap":false,"labelFlush":false,"tickSize":5},
"axisY":{"labelFontSize":16,"titleFontSize":15,"labelPadding":1,"tickSize":5,"labelOverlap":false},
"legend":{"orient":"none","legendX":247,"legendY":932,"labelFont":"Liberation Sans","labelFontSize":14,"labelColor":"black","labelLimit":0,"symbolSize":90,"symbolFillColor":"black","symbolStrokeColor":"black","rowPadding":0,"labelOffset":10}
}
}
